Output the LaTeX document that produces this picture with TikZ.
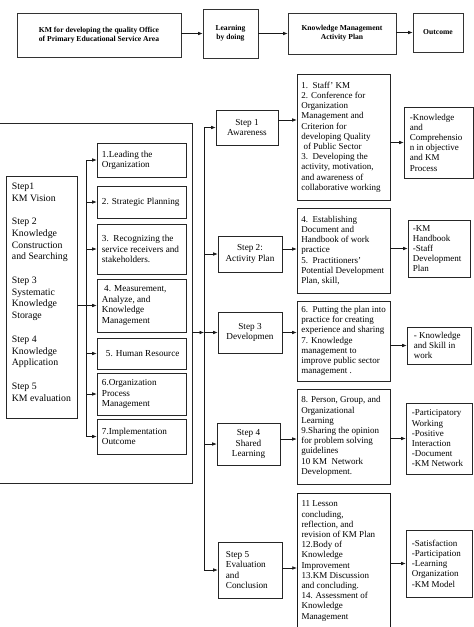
\documentclass[tikz,border=0pt]{standalone}
\usepackage{fontspec}
\setmainfont{Liberation Serif}
\usetikzlibrary{arrows.meta,shadows}
\begin{document}
\begin{tikzpicture}[x=1pt,y=-1pt,
  box/.style={draw=black!85, line width=0.6pt, inner sep=0pt},
  txt/.style={anchor=west, inner sep=0pt, align=left, font=\fontsize{9}{10.2}\selectfont},
  mtxt/.style={txt, font=\fontsize{9.2}{10.4}\selectfont},
  sbox/.style={box, align=center, font=\fontsize{9.2}{10.4}\selectfont},
  topbox/.style={draw=black!80, line width=0.7pt, fill=white, align=center, inner sep=0pt,
    font=\fontsize{7.6}{9}\selectfont\bfseries,
    drop shadow={shadow xshift=1.3pt, shadow yshift=-1.3pt, fill=black!55, opacity=1}},
  arr/.style={line width=0.6pt, draw=black!90, -{Latex[length=4.5pt,width=3.6pt]}},
  ln/.style={line width=0.6pt, draw=black!90},
]
\useasboundingbox (0,0) rectangle (474,627);

% ---------- top row ----------
\node[topbox, minimum width=164pt, minimum height=44pt] (A) at (99,35)
  {KM for developing the quality Office\\of Primary Educational Service Area};
\node[topbox, minimum width=55pt, minimum height=49pt] (B) at (230.5,33.5)
  {Learning\\by doing};
\node[topbox, minimum width=108pt, minimum height=41pt] (C) at (342,33.5)
  {Knowledge Management\\Activity Plan};
\node[topbox, minimum width=50pt, minimum height=39pt] (D) at (438,32.5)
  {Outcome};
\draw[arr] (A.east |- B.west) -- (B.west);
\draw[arr] (B.east) -- (B.east -| C.west);
\draw[arr] (C.east |- D.west) -- (D.west);

% ---------- left block ----------
\node[box, minimum width=202pt, minimum height=360pt] (outer) at (91,303) {};

\node[box, minimum width=71pt, minimum height=242pt] (lstep) at (41.5,297) {};
\node[txt, font=\fontsize{9.8}{11.7}\selectfont] (lstept) at ([xshift=6pt,yshift=5pt]lstep.west)
  {Step1\\KM Vision\\[12pt]Step 2\\Knowledge\\Construction\\and Searching\\[12pt]Step 3\\Systematic\\Knowledge\\Storage\\[12pt]Step 4\\Knowledge\\Application\\[12pt]Step 5\\KM evaluation};

\foreach \n/\y/\h in {m1/160/34, m2/202/32, m3/249/50, m4/305.5/53, m5/353.5/31, m6/394/42, m7/436.5/35}
  {\node[box, minimum width=89pt, minimum height=\h pt] (\n) at (141.5,\y) {};}
\node[mtxt] (m1t) at ([xshift=5pt]m1.west) {1.Leading the\\Organization};
\node[mtxt] (m2t) at ([xshift=5pt]m2.west) {2. Strategic Planning};
\node[mtxt] (m3t) at ([xshift=5pt]m3.west) {3.\ \ Recognizing the\\service receivers and\\stakeholders.};
\node[mtxt] (m4t) at ([xshift=5pt]m4.west) {\ 4. Measurement,\\Analyze, and\\Knowledge\\Management};
\node[mtxt] (m5t) at ([xshift=9pt]m5.west) {5. Human Resource};
\node[mtxt] (m6t) at ([xshift=5pt]m6.west) {6.Organization\\Process\\Management};
\node[mtxt] (m7t) at ([xshift=5pt]m7.west) {7.Implementation\\Outcome};

\coordinate (lb) at (86,0);
\draw[ln] (m1.west -| lb) -- (m7.west -| lb);
\foreach \m in {m1,m2,m3,m5,m6,m7} {\draw[arr] (\m.west -| lb) -- (\m.west);}
\draw[arr] (lstep.east |- m4.west) -- (m4.west);

% ---------- step column ----------
\node[sbox, minimum width=62pt, minimum height=35pt] (s1) at (247,127.5) {Step 1\\Awareness};
\node[sbox, minimum width=64pt, minimum height=36pt] (s2) at (250,254) {Step 2:\\Activity Plan};
\node[sbox, minimum width=64pt, minimum height=41pt] (s3) at (250,332.5) {Step 3\\Developmen};
\node[sbox, minimum width=63pt, minimum height=42pt] (s4) at (248.5,444) {Step 4\\Shared\\Learning};
\node[box, minimum width=64pt, minimum height=56pt] (s5) at (250,570) {};
\node[mtxt] (s5t) at ([xshift=8pt]s5.west) {Step 5\\Evaluation\\and\\Conclusion};

\coordinate (rb) at (204,0);
\draw[ln] (s1.west -| rb) -- (s5.west -| rb);
\draw[arr] (outer.east |- s3.west) -- (s3.west -| rb);
\foreach \s in {s1,s2,s3,s4,s5} {\draw[arr] (\s.west -| rb) -- (\s.west);}

% ---------- activity text column ----------
\foreach \n/\y/\h in {t1/137/126, t2/250.5/85, t3/341/80, t4/436.5/95}
  {\node[box, minimum width=93pt, minimum height=\h pt] (\n) at (343.5,\y) {};}
\node[txt] (t1t) at ([xshift=4.5pt]t1.west)
  {1.\ \ Staff' KM\\2. Conference for\\Organization\\Management and\\Criterion for\\developing Quality\\\ of Public Sector\\3.\ \ Developing the\\activity, motivation,\\and awareness of\\collaborative working};
\node[txt] (t2t) at ([xshift=4.5pt]t2.west)
  {4.\ \ Establishing\\Document and\\Handbook of work\\practice\\5.\ \ Practitioners'\\Potential Development\\Plan, skill,};
\node[txt] (t3t) at ([xshift=4.5pt]t3.west)
  {6.\ \ Putting the plan into\\practice for creating\\experience and sharing\\7. Knowledge\\management to\\improve public sector\\management .};
\node[txt] (t4t) at ([xshift=4.5pt]t4.west)
  {8. Person, Group, and\\Organizational\\Learning\\9.Sharing the opinion\\for problem solving\\guidelines\\10 KM\ \ Network\\Development.};
\node[minimum width=93pt, minimum height=147pt, inner sep=0pt] (t5) at (343.5,566.5) {};
\draw[ln] (t5.south west) -- (t5.north west) -- (t5.north east) -- (t5.south east);
\node[txt, anchor=north west] (t5t) at ([xshift=4.5pt,yshift=-8pt]t5.north west)
  {11 Lesson\\concluding,\\reflection, and\\revision of KM Plan\\12.Body of\\Knowledge\\Improvement\\13.KM Discussion\\and concluding.\\14. Assessment of\\Knowledge\\Management};

\draw[arr] ([yshift=7.5pt]s1.east) -- ([yshift=7.5pt]s1.east -| t1.west);
\draw[arr] ([yshift=5pt]s2.east) -- ([yshift=5pt]s2.east -| t2.west);
\draw[arr] (s3.east) -- (s3.east -| t3.west);
\draw[arr] ([yshift=5pt]s4.east) -- ([yshift=5pt]s4.east -| t4.west);
\draw[arr] ([yshift=2pt]s5.east) -- ([yshift=2pt]s5.east -| t5.west);

% ---------- outcome column ----------
\node[box, minimum width=69pt, minimum height=71pt] (r1) at (438.5,142.5) {};
\node[box, minimum width=62pt, minimum height=57pt] (r2) at (439,248.5) {};
\node[box, minimum width=64pt, minimum height=37pt] (r3) at (439,345.5) {};
\node[box, minimum width=66pt, minimum height=71pt] (r4) at (439,438.5) {};
\node[box, minimum width=66pt, minimum height=67pt] (r5) at (439,563.5) {};
\node[txt] (r1t) at ([xshift=6pt]r1.west) {-Knowledge\\and\\Comprehensio\\n in objective\\and KM\\Process};
\node[txt] (r2t) at ([xshift=5pt]r2.west) {-KM\\Handbook\\-Staff\\Development\\Plan};
\node[txt] (r3t) at ([xshift=7pt]r3.west) {- Knowledge\\and Skill in\\work};
\node[txt] (r4t) at ([xshift=6pt]r4.west) {-Participatory\\Working\\-Positive\\Interaction\\-Document\\-KM Network};
\node[txt] (r5t) at ([xshift=6pt]r5.west) {-Satisfaction\\-Participation\\-Learning\\Organization\\-KM Model};

\draw[arr] (t1.east |- r1.west) -- (r1.west);
\draw[arr] (t2.east |- r2.west) -- (r2.west);
\draw[arr] (t3.east |- r3.west) -- (r3.west);
\draw[arr] (t4.east |- r4.west) -- (r4.west);
\draw[arr] (t5.east |- r5.west) -- (r5.west);
\end{tikzpicture}
\end{document}
